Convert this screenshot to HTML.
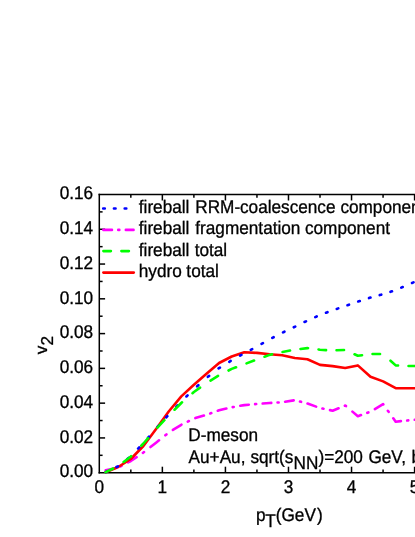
<!DOCTYPE html>
<html><head><meta charset="utf-8"><title>v2 vs pT</title>
<style>
html,body{margin:0;padding:0;background:#fff;}
body{width:415px;height:537px;overflow:hidden;}
svg{display:block;will-change:transform;}
text{font-family:"Liberation Sans",sans-serif;font-size:17.2px;fill:#000;text-rendering:geometricPrecision;stroke:#000;stroke-width:0.3px;}
</style></head><body>
<svg width="415" height="537" viewBox="0 0 415 537">
<rect x="0" y="0" width="415" height="537" fill="#fff"/>

<g stroke="#000" stroke-width="1.5" fill="none">
<path d="M99.3,193.75 V473.45"/>
<path d="M98.55,194.5 H416"/>
<path d="M98.55,472.7 H416"/>
<path d="M130.83,472.7 v-3.3"/>
<path d="M130.83,194.5 v3.3"/>
<path d="M162.36,472.7 v-6.0"/>
<path d="M162.36,194.5 v6.0"/>
<path d="M193.89,472.7 v-3.3"/>
<path d="M193.89,194.5 v3.3"/>
<path d="M225.42,472.7 v-6.0"/>
<path d="M225.42,194.5 v6.0"/>
<path d="M256.95,472.7 v-3.3"/>
<path d="M256.95,194.5 v3.3"/>
<path d="M288.48,472.7 v-6.0"/>
<path d="M288.48,194.5 v6.0"/>
<path d="M320.01,472.7 v-3.3"/>
<path d="M320.01,194.5 v3.3"/>
<path d="M351.54,472.7 v-6.0"/>
<path d="M351.54,194.5 v6.0"/>
<path d="M383.07,472.7 v-3.3"/>
<path d="M383.07,194.5 v3.3"/>
<path d="M414.60,472.7 v-6.0"/>
<path d="M414.60,194.5 v6.0"/>
<path d="M99.3,455.31 h3.3"/>
<path d="M99.3,437.93 h5.8"/>
<path d="M99.3,420.54 h3.3"/>
<path d="M99.3,403.15 h5.8"/>
<path d="M99.3,385.76 h3.3"/>
<path d="M99.3,368.38 h5.8"/>
<path d="M99.3,350.99 h3.3"/>
<path d="M99.3,333.60 h5.8"/>
<path d="M99.3,316.21 h3.3"/>
<path d="M99.3,298.82 h5.8"/>
<path d="M99.3,281.44 h3.3"/>
<path d="M99.3,264.05 h5.8"/>
<path d="M99.3,246.66 h3.3"/>
<path d="M99.3,229.27 h5.8"/>
<path d="M99.3,211.89 h3.3"/>
</g>
<g fill="none" stroke-width="2.6" stroke-linecap="round" stroke-linejoin="round">
<path d="M105.61,470.30 L114.17,468.47 M120.47,466.42 L121.55,465.86 M128.05,462.46 L130.83,461.00 L136.61,457.11 M142.91,452.86 L143.44,452.50 L143.99,452.08 M150.49,447.03 L156.05,442.70 L159.05,440.30 M165.35,435.26 L166.43,434.39 M172.93,429.97 L181.28,424.80 L181.49,424.70 M187.79,421.55 L188.87,421.01 M195.37,418.07 L203.93,415.56 M210.23,413.47 L211.31,413.09 M217.81,410.77 L219.11,410.30 L226.37,408.57 M232.67,407.14 L233.75,406.95 M240.25,405.81 L244.34,405.10 L248.81,404.71 M255.11,404.16 L256.19,404.07 M262.69,403.55 L269.56,403.00 L271.25,402.89 M277.55,402.49 L278.63,402.43 M285.13,401.73 L293.69,400.37 M299.99,401.56 L301.07,401.84 M307.57,403.56 L316.13,406.61 M322.43,408.52 L323.51,408.75 M330.01,410.14 L332.62,410.70 L338.57,408.25 M344.87,405.65 L345.23,405.50 L345.95,406.10 M352.45,411.62 L357.85,416.20 L361.01,415.07 M367.31,412.82 L368.39,412.44 M374.89,409.03 L383.07,404.10 L383.34,404.48 M387.85,410.78 L388.63,411.86 M393.29,418.36 L395.68,421.70 L400.90,421.16 M407.20,420.51 L408.28,420.40 M414.78,419.78 L420.91,419.20" stroke="#ff00ff"/>
<path d="M105.6,472.2 L118.2,467.0 L130.8,459.0 L143.4,446.0 L156.1,429.0 L168.7,411.5 L181.3,396.4 L193.9,384.8 L206.5,373.8 L219.1,363.0 L231.7,356.5 L244.3,352.2 L257.0,352.9 L269.6,354.2 L282.2,355.2 L294.8,358.0 L307.4,359.2 L320.0,364.9 L332.6,366.1 L345.2,368.0 L357.8,365.4 L370.5,376.8 L383.1,381.4 L395.7,388.2 L408.3,388.2 L420.9,388.2" stroke="#ff0000"/>
<path d="M105.73,472.14 L107.17,471.45 M116.48,467.03 L117.92,466.34 M127.32,458.98 L128.58,457.99 M138.10,448.59 L139.20,447.44 M147.97,437.83 L149.03,436.62 M157.56,426.94 L158.64,425.75 M166.26,417.35 L167.34,416.16 M176.35,406.66 L177.45,405.50 M186.43,396.48 L187.57,395.36 M197.15,386.28 L198.35,385.21 M207.87,376.84 L209.13,375.86 M218.57,368.44 L219.93,367.60 M229.32,361.79 L230.68,360.95 M240.05,355.68 L241.45,354.90 M250.80,349.82 L252.20,349.06 M261.55,343.91 L262.95,343.12 M272.29,337.97 L273.71,337.23 M283.03,332.39 L284.47,331.71 M293.78,327.28 L295.22,326.59 M304.53,322.01 L305.97,321.30 M315.27,317.11 L316.73,316.46 M326.00,312.77 L327.50,312.21 M336.74,308.90 L338.26,308.38 M347.49,305.21 L349.01,304.68 M358.24,301.48 L359.76,300.99 M368.99,298.07 L370.51,297.58 M379.73,295.10 L381.27,294.68 M390.49,291.85 L392.01,291.36 M401.27,287.67 L402.73,287.02 M412.01,282.97 L413.49,282.36 M422.70,279.30 L424.30,279.30" stroke="#0000ff"/>
<path d="M105.61,472.20 L113.11,468.51 M123.61,461.94 L130.83,456.50 L131.10,456.22 M141.28,445.72 L143.44,443.50 L148.10,438.22 M157.42,427.72 L164.38,420.22 M174.54,409.73 L181.28,403.00 L182.04,402.33 M192.54,393.18 L193.89,392.00 L200.04,387.61 M210.54,380.53 L218.04,375.95 M228.54,370.52 L231.73,368.90 L236.04,367.29 M246.54,363.36 L254.04,360.51 M264.54,356.69 L269.56,354.90 L272.04,354.33 M282.54,351.93 L290.04,350.57 M300.54,348.97 L307.40,348.10 L308.04,348.18 M318.54,349.51 L320.01,349.70 L326.04,350.08 M336.54,350.31 L344.04,349.96 M354.54,354.25 L357.85,355.80 L362.04,355.23 M372.54,354.07 L380.04,353.95 M390.54,360.71 L395.68,365.40 L398.04,365.51 M408.54,366.00 L416.04,366.00" stroke="#00ff00"/>
<path d="M103.20,208.50 L104.80,208.50 M113.95,208.50 L115.55,208.50 M124.70,208.50 L126.30,208.50" stroke="#0000ff"/>
<path d="M103.40,229.90 L111.96,229.90 M118.26,229.90 L119.34,229.90 M125.84,229.90 L133.55,229.90" stroke="#ff00ff"/>
<path d="M103.40,251.10 L110.90,251.10 M121.40,251.10 L128.90,251.10" stroke="#00ff00"/>
<path d="M103.4,272.6 H133.75" stroke="#ff0000"/>
</g>
<text transform="translate(138.80,212.60) scale(1,1.06)">fireball</text>
<text transform="translate(195.30,212.60) scale(1,1.06)">RRM-</text>
<text transform="translate(239.98,212.60) scale(1,1.06)">coalescence</text>
<text transform="translate(340.40,212.60) scale(1,1.06)">component</text>
<text transform="translate(138.80,234.10) scale(1,1.06)">fireball</text>
<text transform="translate(195.30,234.10) scale(1,1.06)">fragmentation</text>
<text transform="translate(304.97,234.10) scale(1,1.06)">component</text>
<text transform="translate(138.80,255.60) scale(1,1.06)">fireball</text>
<text transform="translate(194.70,255.60) scale(1,1.06)">total</text>
<text transform="translate(138.80,277.10) scale(1,1.06)">hydro</text>
<text transform="translate(186.35,277.10) scale(1,1.06)">total</text>
<text transform="translate(93.10,477.45) scale(1,1.07)" text-anchor="end" font-size="17.8px">0.00</text>
<text transform="translate(93.10,442.68) scale(1,1.07)" text-anchor="end" font-size="17.8px">0.02</text>
<text transform="translate(93.10,407.90) scale(1,1.07)" text-anchor="end" font-size="17.8px">0.04</text>
<text transform="translate(93.10,373.12) scale(1,1.07)" text-anchor="end" font-size="17.8px">0.06</text>
<text transform="translate(93.10,338.35) scale(1,1.07)" text-anchor="end" font-size="17.8px">0.08</text>
<text transform="translate(93.10,303.57) scale(1,1.07)" text-anchor="end" font-size="17.8px">0.10</text>
<text transform="translate(93.10,268.80) scale(1,1.07)" text-anchor="end" font-size="17.8px">0.12</text>
<text transform="translate(93.10,234.02) scale(1,1.07)" text-anchor="end" font-size="17.8px">0.14</text>
<text transform="translate(93.10,199.25) scale(1,1.07)" text-anchor="end" font-size="17.8px">0.16</text>
<text transform="translate(99.30,492.80) scale(1,1.06)" text-anchor="middle" font-size="17.2px">0</text>
<text transform="translate(162.36,492.80) scale(1,1.06)" text-anchor="middle" font-size="17.2px">1</text>
<text transform="translate(225.42,492.80) scale(1,1.06)" text-anchor="middle" font-size="17.2px">2</text>
<text transform="translate(288.48,492.80) scale(1,1.06)" text-anchor="middle" font-size="17.2px">3</text>
<text transform="translate(351.54,492.80) scale(1,1.06)" text-anchor="middle" font-size="17.2px">4</text>
<text transform="translate(414.60,492.80) scale(1,1.06)" text-anchor="middle" font-size="17.2px">5</text>
<text transform="translate(256.00,520.80) scale(1,1.06)">p</text>
<text transform="translate(265.35,526.80) scale(1,1.06)" font-size="16.6px">T</text>
<text transform="translate(275.74,520.80) scale(1,1.06)">(GeV</text>
<text transform="translate(316.92,520.80) scale(1,1.06)">)</text>
<text transform="translate(46.9,354.2) rotate(-90)" font-size="17px">v<tspan dy="5.8">2</tspan></text>
<text transform="translate(188.30,441.40) scale(1,1.06)" font-size="17.35px">D-meson</text>
<text transform="translate(188.60,462.70) scale(1,1.06)">Au+Au,</text>
<text transform="translate(250.41,462.70) scale(1,1.06)">sqrt(s</text>
<text transform="translate(293.56,468.70) scale(1,1.06)" font-size="17.4px">NN</text>
<text transform="translate(318.41,462.70) scale(1,1.06)" font-size="17.35px">)=200</text>
<text transform="translate(368.39,462.70) scale(1,1.06)">GeV,</text>
<text transform="translate(411.39,462.70) scale(1,1.06)">b=7 fm</text>
</svg></body></html>
